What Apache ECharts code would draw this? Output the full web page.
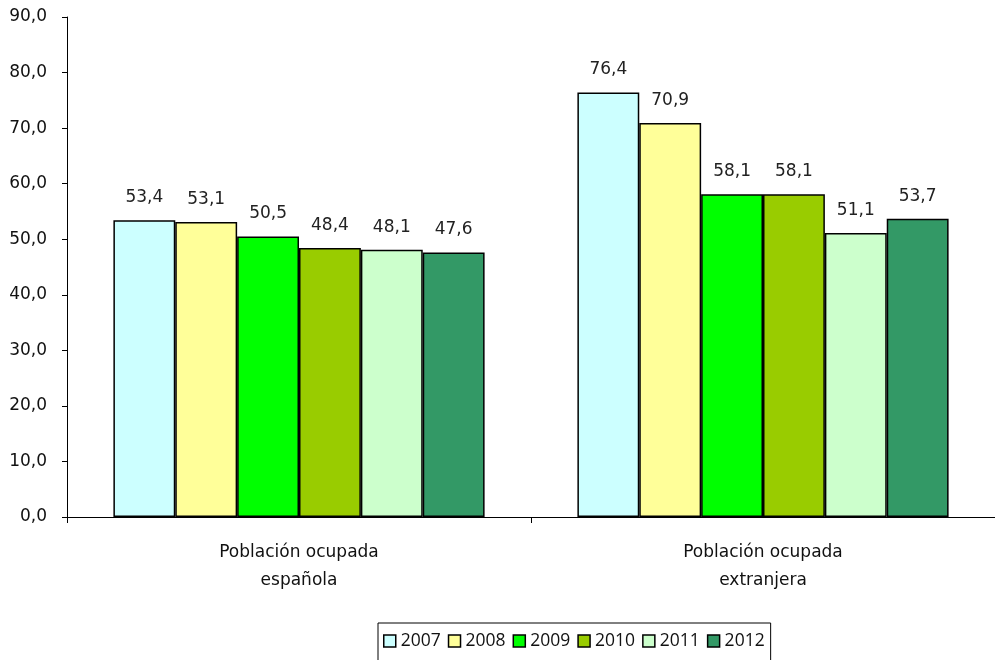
<!DOCTYPE html>
<html>
<head>
<meta charset="utf-8">
<script src="https://cdn.jsdelivr.net/npm/echarts@6/dist/echarts.min.js"></script>
<style>
  html, body { margin: 0; padding: 0; background: #fff; }
  #chart { width: 995px; height: 660px; }
</style>
</head>
<body>
<div id="chart"></div>
<script>
var categories = ['Población ocupada\nespañola', 'Población ocupada\nextranjera'];
var years = ['2007', '2008', '2009', '2010', '2011', '2012'];
var values2007 = [53.4, 76.4];
var values2008 = [53.1, 70.9];
var values2009 = [50.5, 58.1];
var values2010 = [48.4, 58.1];
var values2011 = [48.1, 51.1];
var values2012 = [47.6, 53.7];
var colors = ['#CCFFFF', '#FFFF99', '#00FF00', '#99CC00', '#CCFFCC', '#339966'];

var allValues = [values2007, values2008, values2009, values2010, values2011, values2012];
var fontName = 'DejaVu Sans';

function fmt(v) { return v.toFixed(1).replace('.', ','); }

var series = [];
for (var i = 0; i < years.length; i++) {
  series.push({
    name: years[i],
    type: 'bar',
    data: allValues[i],
    barGap: '0%',
    barCategoryGap: '20%',
    itemStyle: { color: colors[i], borderColor: '#000', borderWidth: 1.5 },
    label: {
      show: true,
      position: 'top',
      distance: 14,
      color: '#222',
      fontFamily: fontName,
      fontSize: 17,
      formatter: function (p) { return fmt(p.value); }
    }
  });
}

var chart = echarts.init(document.getElementById('chart'));
chart.setOption({
  animation: false,
  grid: { left: 67, right: 0, top: 17, bottom: 143 },
  legend: {
    data: years,
    left: 378,
    top: 623,
    itemGap: 7,
    itemWidth: 12,
    itemHeight: 12,
    padding: [9, 6, 20, 5],
    borderColor: '#000',
    borderWidth: 1,
    icon: 'rect',
    itemStyle: { borderColor: '#000', borderWidth: 1.5 },
    textStyle: { fontFamily: 'Open Sans', fontSize: 17.5, color: '#111' }
  },
  xAxis: {
    type: 'category',
    data: categories,
    axisLine: { lineStyle: { color: '#000' } },
    axisTick: { show: true, length: 6, lineStyle: { color: '#000' } },
    axisLabel: {
      fontFamily: fontName,
      fontSize: 17,
      color: '#111',
      lineHeight: 28,
      margin: 22
    }
  },
  yAxis: {
    type: 'value',
    min: 0,
    max: 90,
    interval: 10,
    axisLine: { show: true, lineStyle: { color: '#000' } },
    axisTick: { show: true, length: 5, lineStyle: { color: '#000' } },
    splitLine: { show: false },
    axisLabel: {
      fontFamily: fontName,
      fontSize: 17,
      color: '#111',
      margin: 20,
      formatter: function (v) { return fmt(v); }
    }
  },
  series: series
});
</script>
</body>
</html>
